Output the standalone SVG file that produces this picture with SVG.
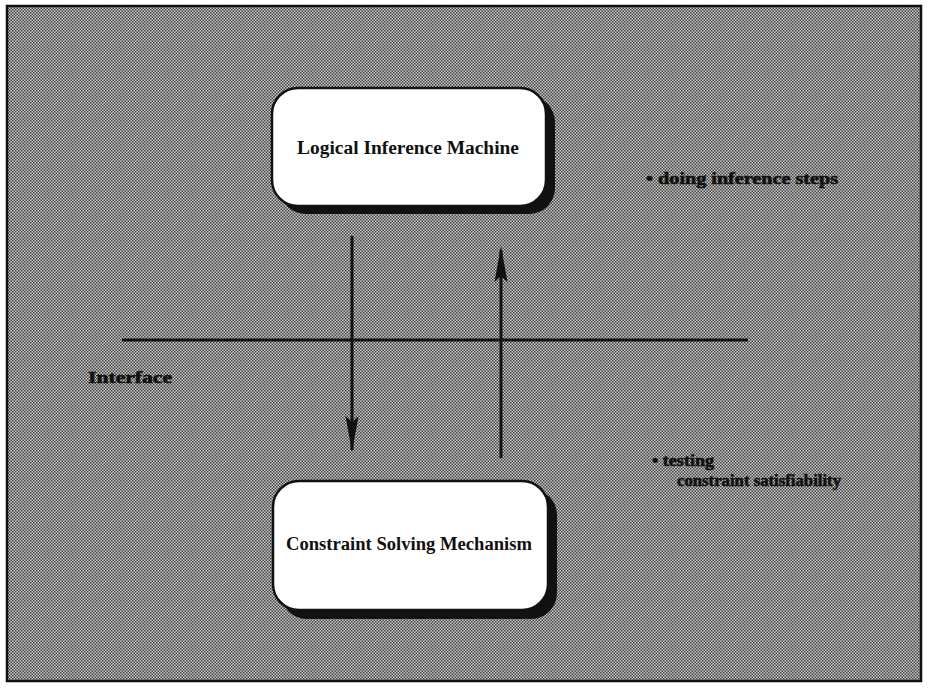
<svg xmlns="http://www.w3.org/2000/svg" width="928" height="689" viewBox="0 0 928 689">
<style>
.box{fill:#ffffff;stroke:#111;stroke-width:2.5}
.shadow{fill:#111}
.title{font-family:"Liberation Serif",serif;font-weight:bold;font-size:18px;fill:#111;text-anchor:middle}
.lbl{font-family:"Liberation Serif",serif;font-weight:bold;font-size:16px;fill:#111;stroke:#111;stroke-width:0.6}
.conn{stroke:#111;stroke-width:3;fill:none}
</style>
<defs>
<pattern id="ht" width="3" height="3" patternUnits="userSpaceOnUse">
<rect width="3" height="3" fill="#c8c8c8"/>
<rect x="0" y="0" width="1.5" height="1.5" fill="#444"/>
<rect x="1.5" y="1.5" width="1.5" height="1.5" fill="#444"/>
</pattern>
</defs>
<rect x="0" y="0" width="928" height="689" fill="#ffffff"/>
<rect x="7" y="6" width="914" height="675" fill="url(#ht)" stroke="#111" stroke-width="2.5"/>
<g id="connectors">
<line class="conn" x1="122" y1="340" x2="748" y2="340"/>
<line class="conn" x1="352" y1="236" x2="352" y2="450"/>
<path d="M345.5,416 L352,452 L358.5,416 L352,422 Z" fill="#111"/>
<line class="conn" x1="501" y1="250" x2="501" y2="458"/>
<path d="M494.5,282 L501,246 L507.5,282 L501,276 Z" fill="#111"/>
</g>
<g id="node-lim">
<rect class="shadow" x="280" y="96" width="275" height="118" rx="26"/>
<rect class="box" x="272" y="88" width="274" height="118" rx="26"/>
<text class="title" x="408" y="154" textLength="222" lengthAdjust="spacingAndGlyphs">Logical Inference Machine</text>
</g>
<g id="node-csm">
<rect class="shadow" x="281" y="489" width="276" height="130" rx="26"/>
<rect class="box" x="273" y="481" width="275" height="129" rx="26"/>
<text class="title" x="409" y="550" textLength="246" lengthAdjust="spacingAndGlyphs">Constraint Solving Mechanism</text>
</g>
<g id="labels">
<text class="lbl" x="88" y="383" textLength="84" lengthAdjust="spacingAndGlyphs">Interface</text>
<text class="lbl" x="646" y="184" textLength="192" lengthAdjust="spacingAndGlyphs">• doing inference steps</text>
<text class="lbl" x="652" y="466" textLength="62" lengthAdjust="spacingAndGlyphs">• testing</text>
<text class="lbl" x="677" y="486" textLength="164" lengthAdjust="spacingAndGlyphs">constraint satisfiability</text>
</g>
</svg>
